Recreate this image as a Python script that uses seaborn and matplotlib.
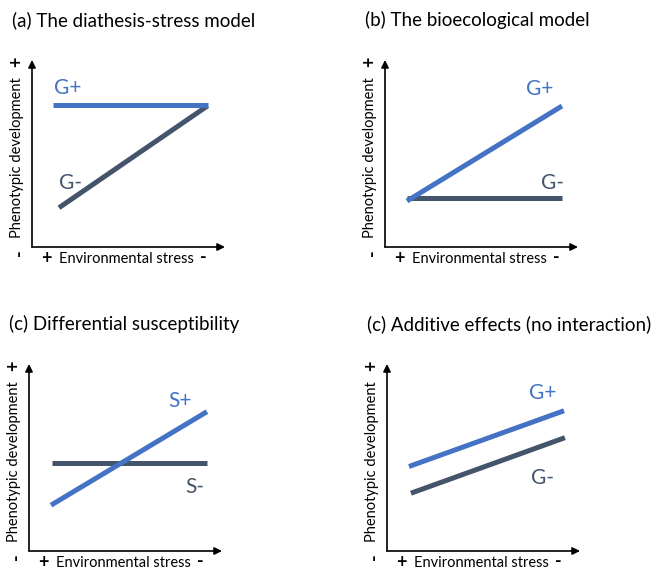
import pandas as pd
import matplotlib.pyplot as plt
import seaborn as sns

sns.set_theme(style='white')
plt.rcParams['font.family'] = ['Lato', 'DejaVu Sans']

BLUE = '#4472C4'
DARK = '#44546A'

# Panel titles
titles = [
    '(a) The diathesis-stress model',
    '(b) The bioecological model',
    '(c) Differential susceptibility',
    '(c) Additive effects (no interaction)',
]

# Line end points (x from 0 to 10, y from 0 to 10)
a_hi_x = [1.1, 9.1]
a_hi_y = [7.6, 7.6]
a_lo_x = [1.4, 9.1]
a_lo_y = [2.1, 7.55]

b_hi_x = [1.14, 9.17]
b_hi_y = [2.46, 7.54]
b_lo_x = [1.14, 9.17]
b_lo_y = [2.62, 2.62]

c_hi_x = [1.14, 9.22]
c_hi_y = [2.45, 7.45]
c_lo_x = [1.19, 9.22]
c_lo_y = [4.68, 4.68]

d_hi_x = [1.14, 9.17]
d_hi_y = [4.52, 7.5]
d_lo_x = [1.24, 9.22]
d_lo_y = [3.09, 6.06]

# Group labels and their positions
hi_labels = ['G+', 'G+', 'S+', 'G+']
lo_labels = ['G-', 'G-', 'S-', 'G-']
hi_label_xy = [(1.87, 8.5), (8.03, 8.45), (7.82, 8.03), (8.08, 8.46)]
lo_label_xy = [(1.97, 3.42), (8.7, 3.42), (8.6, 3.4), (8.08, 3.88)]

panels = [
    (a_hi_x, a_hi_y, a_lo_x, a_lo_y),
    (b_hi_x, b_hi_y, b_lo_x, b_lo_y),
    (c_hi_x, c_hi_y, c_lo_x, c_lo_y),
    (d_hi_x, d_hi_y, d_lo_x, d_lo_y),
]

# axes boxes in pixels: origin x, origin y (from top)
W, H = 659, 570
origins = [(32, 247), (385, 247), (29, 551), (387, 551)]
aw, ah = 193, 187

fig = plt.figure(figsize=(W / 100, H / 100), dpi=100)

for i, (hx, hy, lx, ly) in enumerate(panels):
    ox, oy = origins[i]
    ax = fig.add_axes([ox / W, (H - oy) / H, aw / W, ah / H])

    df = pd.DataFrame({
        'x': hx + lx,
        'y': hy + ly,
        'group': ['hi', 'hi', 'lo', 'lo'],
    })
    sns.lineplot(data=df, x='x', y='y', hue='group',
                 palette={'hi': BLUE, 'lo': DARK},
                 lw=3.6, legend=False, ax=ax, estimator=None,
                 sort=False)
    # draw the blue one on top as in the reference
    for ln in ax.lines:
        ln.set_solid_capstyle('butt')
    ax.lines[0].set_zorder(3)

    ax.set_xlim(0, 10)
    ax.set_ylim(0, 10)
    ax.axis('off')

    # axis arrows
    ax.annotate('', xy=(10.0, 0), xytext=(0, 0), xycoords='data',
                arrowprops=dict(arrowstyle='-|>', lw=1.2, color='black',
                                mutation_scale=11, shrinkA=0, shrinkB=0),
                annotation_clip=False)
    ax.annotate('', xy=(0, 10.0), xytext=(0, 0), xycoords='data',
                arrowprops=dict(arrowstyle='-|>', lw=1.2, color='black',
                                mutation_scale=11, shrinkA=0, shrinkB=0),
                annotation_clip=False)

    # group labels
    ax.text(*hi_label_xy[i], hi_labels[i], color=BLUE, fontsize=15,
            ha='center', va='center', clip_on=False)
    ax.text(*lo_label_xy[i], lo_labels[i], color=DARK, fontsize=15,
            ha='center', va='center', clip_on=False)

    # axis labels
    ax.text(4.87, -0.64, 'Environmental stress', fontsize=10.5,
            ha='center', va='center', color='black', clip_on=False)
    ax.text(0.75, -0.64, '+', fontsize=13, fontweight='bold',
            ha='center', va='center', color='black', clip_on=False)
    ax.text(8.9, -0.55, '-', fontsize=13, fontweight='bold',
            ha='center', va='center', color='black', clip_on=False)
    ax.text(-0.8, 4.8, 'Phenotypic development', fontsize=10.5,
            rotation=90, ha='center', va='center', color='black',
            clip_on=False)
    ax.text(-0.8, 9.9, '+', fontsize=13, fontweight='bold', rotation=90,
            ha='center', va='center', color='black', clip_on=False)
    ax.text(-0.65, -0.3, '-', fontsize=13, fontweight='bold', rotation=90,
            ha='center', va='center', color='black', clip_on=False)

    # title
    ax.text(-1.05, 12.15, titles[i], fontsize=13.5, ha='left', va='center',
            color='black', clip_on=False)

fig.savefig('out.png', dpi=100)
